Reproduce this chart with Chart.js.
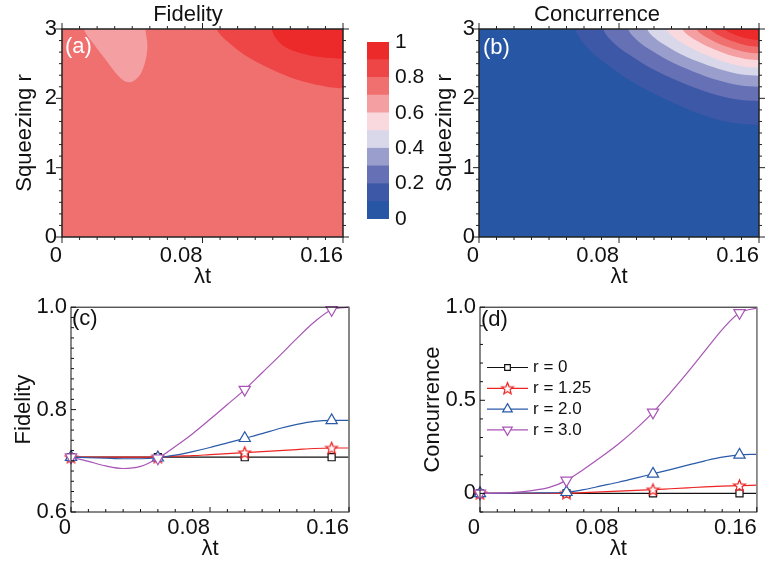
<!DOCTYPE html>
<html>
<head>
<meta charset="utf-8">
<script src="https://cdn.jsdelivr.net/npm/chart.js@4/dist/chart.umd.min.js"></script>
<style>
  body { margin: 0; background: #fff; width: 765px; height: 570px; position: relative; overflow: hidden; }
  canvas { position: absolute; }
</style>
</head>
<body>
<canvas id="fidMap" width="376" height="290" style="left:0;top:0"></canvas>
<canvas id="colorBar" width="78" height="290" style="left:350px;top:0"></canvas>
<canvas id="concMap" width="336" height="290" style="left:429px;top:0"></canvas>
<canvas id="fidLines" width="400" height="280" style="left:0;top:290px"></canvas>
<canvas id="concLines" width="365" height="280" style="left:400px;top:290px"></canvas>
<script>
// contour levels, shared by both maps and the colour bar
const levels = [0, 0.1, 0.2, 0.3, 0.4, 0.5, 0.6, 0.7, 0.8, 0.9, 1.0];
const levelColors = ['#2756a4', '#3e58a8', '#6670b5', '#9a9ecd', '#d9d8ea',
                     '#fad9de', '#f4a0a3', '#f07070', '#ee4646', '#ec2a2a'];
const barTicks = [0, 0.2, 0.4, 0.6, 0.8, 1];
const barLabels = ['0', '0.2', '0.4', '0.6', '0.8', '1'];

// shared x axis (lambda t)
const xTicks = [0, 0.08, 0.16];
const xLabels = ['0', '0.08', '0.16'];
const mapYTicks = [0, 1, 2, 3];
const mapYLabels = ['0', '1', '2', '3'];

// (a) fidelity map: contour outlines, as [λt, r]
// points beyond the frame only close the shapes
const fidBackLevel = 7;
const fidBlob = [[0.0125, 3.3], [0.0125, 3], [0.0185, 2.769], [0.0243, 2.577], [0.0300, 2.385], [0.0347, 2.264],
  [0.0378, 2.231], [0.0416, 2.264], [0.0454, 2.385], [0.0478, 2.577], [0.0486, 2.769], [0.0475, 3], [0.0475, 3.3]];
const fidHigh = [[0.175, 3.3], [0.0881, 3.3], [0.0881, 3], [0.0966, 2.769], [0.1070, 2.577], [0.1222, 2.385],
  [0.1374, 2.241], [0.1507, 2.168], [0.16, 2.144], [0.175, 2.144]];
const fidTop = [[0.175, 3.3], [0.1194, 3.3], [0.1194, 3], [0.1220, 2.86], [0.1270, 2.74], [0.1355, 2.655],
  [0.1469, 2.595], [0.16, 2.572], [0.175, 2.572]];

// (b) concurrence map: one outline per level boundary 0.1 ... 0.9
const concBackLevel = 0;
const concB1 = [[0.175, 3.3], [0.0549, 3.3], [0.0549, 3], [0.0633, 2.695], [0.0749, 2.460], [0.0875, 2.238], [0.1075, 1.975], [0.1264, 1.774], [0.1442, 1.650], [0.16, 1.615], [0.175, 1.615]];
const concB2 = [[0.175, 3.3], [0.0710, 3.3], [0.0710, 3], [0.0781, 2.772], [0.0879, 2.595], [0.0986, 2.429], [0.1155, 2.232], [0.1315, 2.081], [0.1467, 1.988], [0.16, 1.962], [0.175, 1.962]];
const concB3 = [[0.175, 3.3], [0.0853, 3.3], [0.0853, 3], [0.0913, 2.817], [0.0995, 2.676], [0.1085, 2.542], [0.1227, 2.384], [0.1361, 2.264], [0.1488, 2.189], [0.16, 2.168], [0.175, 2.168]];
const concB4 = [[0.175, 3.3], [0.0962, 3.3], [0.0962, 3], [0.1013, 2.852], [0.1083, 2.737], [0.1160, 2.629], [0.1281, 2.501], [0.1396, 2.404], [0.1504, 2.343], [0.16, 2.326], [0.175, 2.326]];
const concB5 = [[0.175, 3.3], [0.1073, 3.3], [0.1073, 3], [0.1115, 2.877], [0.1173, 2.782], [0.1236, 2.693], [0.1337, 2.587], [0.1431, 2.506], [0.1521, 2.456], [0.16, 2.442], [0.175, 2.442]];
const concB6 = [[0.175, 3.3], [0.1164, 3.3], [0.1164, 3], [0.1199, 2.902], [0.1247, 2.826], [0.1299, 2.754], [0.1382, 2.669], [0.1460, 2.604], [0.1535, 2.564], [0.16, 2.553], [0.175, 2.553]];
const concB7 = [[0.175, 3.3], [0.1244, 3.3], [0.1244, 3], [0.1272, 2.923], [0.1312, 2.863], [0.1354, 2.807], [0.1422, 2.740], [0.1486, 2.689], [0.1547, 2.658], [0.16, 2.649], [0.175, 2.649]];
const concB8 = [[0.175, 3.3], [0.1324, 3.3], [0.1324, 3], [0.1346, 2.944], [0.1376, 2.901], [0.1410, 2.860], [0.1462, 2.811], [0.1512, 2.774], [0.1559, 2.751], [0.16, 2.745], [0.175, 2.745]];
const concB9 = [[0.175, 3.3], [0.1406, 3.3], [0.1406, 3], [0.1422, 2.965], [0.1443, 2.938], [0.1466, 2.913], [0.1503, 2.882], [0.1538, 2.859], [0.1571, 2.845], [0.16, 2.841], [0.175, 2.841]];

// (c), (d) line plots
const lamT = [0, 0.01, 0.02, 0.03, 0.04, 0.05, 0.06, 0.07, 0.08, 0.09, 0.10, 0.11, 0.12, 0.13, 0.14, 0.15, 0.16];
const markerT = [0, 0.05, 0.10, 0.15];
const seriesLabels = ['r = 0', 'r = 1.25', 'r = 2.0', 'r = 3.0'];
const seriesColors = ['#111111', '#ee2424', '#2a5aa8', '#a855b5'];

const fidR0   = [0.707, 0.707, 0.707, 0.707, 0.707, 0.707, 0.707, 0.707, 0.707, 0.707, 0.707, 0.707, 0.707, 0.707, 0.707, 0.707, 0.707];
const fidR125 = [0.707, 0.707, 0.707, 0.707, 0.707, 0.707, 0.709, 0.710, 0.712, 0.714, 0.716, 0.718, 0.720, 0.722, 0.724, 0.725, 0.725];
const fidR2   = [0.707, 0.706, 0.705, 0.704, 0.704, 0.706, 0.711, 0.718, 0.726, 0.735, 0.744, 0.753, 0.763, 0.771, 0.777, 0.779, 0.779];
const fidR3   = [0.707, 0.699, 0.690, 0.685, 0.689, 0.705, 0.728, 0.753, 0.781, 0.810, 0.839, 0.872, 0.905, 0.939, 0.971, 0.995, 1.000];

const concR0   = [0, 0, 0, 0, 0, 0, 0, 0, 0, 0, 0, 0, 0, 0, 0, 0, 0];
const concR125 = [0, 0, 0, 0, 0, 0.001, 0.004, 0.008, 0.012, 0.016, 0.020, 0.025, 0.030, 0.035, 0.039, 0.042, 0.044];
const concR2   = [0, 0, 0.001, 0.002, 0.003, 0.006, 0.020, 0.040, 0.060, 0.082, 0.105, 0.128, 0.152, 0.175, 0.195, 0.207, 0.210];
const concR3   = [0, 0.001, 0.005, 0.015, 0.032, 0.070, 0.130, 0.195, 0.265, 0.345, 0.435, 0.540, 0.650, 0.765, 0.880, 0.970, 0.995];

const fidYTicks = [0.6, 0.8, 1.0];
const fidYLabels = ['0.6', '0.8', '1.0'];
const concYTicks = [0, 0.5, 1.0];
const concYLabels = ['0', '0.5', '1.0'];

Chart.defaults.font.family = "'Liberation Sans', Arial, Helvetica, sans-serif";
Chart.defaults.color = '#111';
const FONT = '"Liberation Sans", Arial';

// open five-point star, used as the marker of r = 1.25
function starMarker(color) {
  const c = document.createElement('canvas');
  c.width = 15; c.height = 15;
  const g = c.getContext('2d');
  g.beginPath();
  for (let i = 0; i < 10; i++) {
    const rad = i % 2 ? 2.7 : 6.2;
    const a = -Math.PI / 2 + i * Math.PI / 5;
    g.lineTo(7.5 + rad * Math.cos(a), 8 + rad * Math.sin(a));
  }
  g.closePath();
  g.fillStyle = '#fff';
  g.fill();
  g.strokeStyle = color;
  g.lineWidth = 1.2;
  g.stroke();
  return c;
}
const markerStyles = ['rect', starMarker(seriesColors[1]), 'triangle', 'triangle'];
const markerRotation = [0, 0, 0, 180];
const markerRadius = [5, 7, 6.5, 6.5];

// frame, tick marks, background and free text
const deco = {
  id: 'deco',
  beforeDatasetsDraw(chart, args, o) {
    if (!o.bg) return;
    const a = chart.chartArea, ctx = chart.ctx;
    ctx.save();
    ctx.fillStyle = o.bg;
    ctx.fillRect(a.left, a.top, a.right - a.left, a.bottom - a.top);
    ctx.restore();
  },
  afterDraw(chart, args, o) {
    const { ctx, chartArea: a, scales } = chart;
    if (!o.frame) return;
    ctx.save();
    ctx.lineWidth = o.frameWidth;
    ctx.strokeStyle = o.frame;
    ctx.strokeRect(a.left, a.top, a.right - a.left, a.bottom - a.top);
    if (o.rightColor) {
      ctx.strokeStyle = o.rightColor;
      ctx.lineWidth = 1.6;
      ctx.beginPath(); ctx.moveTo(a.right, a.top); ctx.lineTo(a.right, a.bottom); ctx.stroke();
    }
    const dir = o.inward ? 1 : -1;
    ctx.strokeStyle = o.frame;
    ctx.lineWidth = 1;
    const marks = (scale, step, horiz) => {
      const k0 = Math.ceil(scale.min / step - 1e-6), k1 = Math.floor(scale.max / step + 1e-6);
      for (let k = k0; k <= k1; k++) {
        const v = k * step;
        const major = scale.ticks.some(t => Math.abs(t.value - v) < step / 10);
        const len = major ? o.major : o.minor;
        const p = scale.getPixelForValue(v);
        ctx.beginPath();
        if (horiz) {
          ctx.moveTo(p, a.bottom); ctx.lineTo(p, a.bottom - dir * len);
          if (o.allSides) { ctx.moveTo(p, a.top); ctx.lineTo(p, a.top + dir * len); }
        } else {
          ctx.moveTo(a.left, p); ctx.lineTo(a.left + dir * len, p);
          if (o.allSides) { ctx.moveTo(a.right, p); ctx.lineTo(a.right - dir * len, p); }
        }
        ctx.stroke();
      }
    };
    marks(scales.x, o.xStep, true);
    marks(scales.y, o.yStep, false);

    for (const t of o.texts || []) {
      ctx.font = t.font;
      ctx.fillStyle = t.color;
      ctx.textAlign = t.align;
      ctx.textBaseline = 'middle';
      ctx.fillText(t.text, t.x, t.y);
    }

    if (o.legend) {
      const L = o.legend;
      chart.data.datasets.forEach((ds, i) => {
        const y = L.y0 + i * L.dy;
        ctx.strokeStyle = ds.borderColor;
        ctx.lineWidth = ds.borderWidth;
        ctx.beginPath(); ctx.moveTo(L.x0, y); ctx.lineTo(L.x1, y); ctx.stroke();
        ctx.fillStyle = '#fff';
        ctx.lineWidth = ds.pointBorderWidth;
        Chart.helpers.drawPoint(ctx, {
          pointStyle: ds.pointStyle, rotation: ds.pointRotation,
          radius: markerRadius[i] - 1, borderWidth: ds.pointBorderWidth
        }, (L.x0 + L.x1) / 2, y);
        ctx.fillStyle = '#111';
        ctx.font = L.font;
        ctx.textAlign = 'left';
        ctx.textBaseline = 'middle';
        ctx.fillText(ds.label, L.textX, y);
      });
    }
    ctx.restore();
  }
};

function region(points, level) {
  return {
    data: points.map(p => ({ x: p[0], y: p[1] })),
    fill: 'shape',
    backgroundColor: levelColors[level],
    borderWidth: 0,
    pointRadius: 0,
    tension: 0.35
  };
}

function axes(o) {
  return {
    x: {
      type: 'linear', min: 0, max: 0.16,
      afterBuildTicks: s => { s.ticks = xTicks.map(v => ({ value: v })); },
      afterFit: s => { s.height = o.xHeight; },
      grid: { display: false, drawTicks: false },
      border: { display: false },
      ticks: { align: 'end', padding: o.xPad, maxRotation: 0, autoSkip: false,
               font: { size: 22 }, color: '#111', callback: (v, i) => xLabels[i] },
      title: { display: true, text: 'λt', font: { size: 22 }, color: '#111',
               padding: { top: 0, bottom: o.xTitlePad } }
    },
    y: {
      min: o.yMin, max: o.yMax,
      afterBuildTicks: s => { s.ticks = o.yTicks.map(v => ({ value: v })); },
      afterFit: s => { s.width = o.yWidth; },
      grid: { display: false, drawTicks: false },
      border: { display: false },
      ticks: { padding: o.yPad, autoSkip: false, font: { size: 22 }, color: '#111',
               callback: (v, i) => o.yLabels[i] },
      title: { display: true, text: o.yTitle, font: { size: 22 }, color: '#111',
               padding: { top: o.yTitlePad, bottom: 0 } }
    }
  };
}

const base = { responsive: false, animation: false, devicePixelRatio: 1, events: [] };

// (a) Fidelity map
new Chart(document.getElementById('fidMap'), {
  type: 'line',
  data: { datasets: [region(fidTop, 9), region(fidHigh, 8), region(fidBlob, 6)] },
  options: Object.assign({}, base, {
    layout: { padding: { left: 0, top: 29, right: 33, bottom: 0 } },
    plugins: {
      legend: { display: false }, tooltip: { enabled: false },
      deco: {
        bg: levelColors[fidBackLevel], frame: '#222', frameWidth: 1.5, inward: false, allSides: true,
        major: 6, minor: 3, xStep: 0.01, yStep: 1 / 6,
        texts: [
          { text: 'Fidelity', x: 188, y: 15, font: '22px ' + FONT, color: '#111', align: 'center' },
          { text: '(a)', x: 65, y: 47, font: '22px ' + FONT, color: '#fff', align: 'left' }
        ]
      }
    },
    scales: axes({ xHeight: 53, xPad: 6, xTitlePad: 0, yMin: 0, yMax: 3, yTicks: mapYTicks, yLabels: mapYLabels,
                   yWidth: 62, yPad: 5, yTitle: 'Squeezing r', yTitlePad: 12 })
  }),
  plugins: [deco]
});

// colour bar
new Chart(document.getElementById('colorBar'), {
  type: 'bar',
  data: {
    labels: [''],
    datasets: levelColors.map((c, i) => ({
      data: [levels[i + 1] - levels[i]], backgroundColor: c, borderWidth: 0,
      barPercentage: 1, categoryPercentage: 1
    }))
  },
  options: Object.assign({}, base, {
    layout: { padding: { left: 17, top: 42, right: 0, bottom: 71 } },
    plugins: { legend: { display: false }, tooltip: { enabled: false } },
    scales: {
      x: { stacked: true, display: false },
      y: {
        stacked: true, position: 'right', min: 0, max: 1,
        afterBuildTicks: s => { s.ticks = barTicks.map(v => ({ value: v })); },
        afterFit: s => { s.width = 39; },
        grid: { display: false, drawTicks: false }, border: { display: false },
        ticks: { padding: 6, font: { size: 21 }, color: '#111', callback: (v, i) => barLabels[i] }
      }
    }
  })
});

// (b) Concurrence map
new Chart(document.getElementById('concMap'), {
  type: 'line',
  data: {
    datasets: [region(concB9, 9), region(concB8, 8), region(concB7, 7), region(concB6, 6), region(concB5, 5),
               region(concB4, 4), region(concB3, 3), region(concB2, 2), region(concB1, 1)]
  },
  options: Object.assign({}, base, {
    layout: { padding: { left: 0, top: 29, right: 5, bottom: 0 } },
    plugins: {
      legend: { display: false }, tooltip: { enabled: false },
      deco: {
        bg: levelColors[concBackLevel], frame: '#222', frameWidth: 1.5, inward: false, allSides: true,
        major: 6, minor: 3, xStep: 0.01, yStep: 1 / 6,
        texts: [
          { text: 'Concurrence', x: 168, y: 15, font: '22px ' + FONT, color: '#111', align: 'center' },
          { text: '(b)', x: 54, y: 48, font: '22px ' + FONT, color: '#fff', align: 'left' }
        ]
      }
    },
    scales: axes({ xHeight: 53, xPad: 6, xTitlePad: 0, yMin: 0, yMax: 3, yTicks: mapYTicks, yLabels: mapYLabels,
                   yWidth: 50, yPad: 4, yTitle: 'Squeezing r', yTitlePad: 3 })
  }),
  plugins: [deco]
});

function seriesSets(values) {
  return values.map((vals, i) => ({
    label: seriesLabels[i],
    data: lamT.map((x, j) => ({ x, y: vals[j] })),
    borderColor: seriesColors[i],
    borderWidth: 1.2,
    backgroundColor: '#fff',
    pointBackgroundColor: '#fff',
    pointBorderColor: seriesColors[i],
    pointBorderWidth: 1.2,
    pointStyle: markerStyles[i],
    pointRotation: markerRotation[i],
    pointRadius: ctx => markerT.some(m => Math.abs(m - ctx.raw.x) < 1e-6) ? markerRadius[i] : 0,
    cubicInterpolationMode: 'monotone',
    fill: false,
    clip: false,
    order: values.length - i
  }));
}

// (c) Fidelity vs λt
new Chart(document.getElementById('fidLines'), {
  type: 'line',
  data: { datasets: seriesSets([fidR0, fidR125, fidR2, fidR3]) },
  options: Object.assign({}, base, {
    layout: { padding: { left: 0, top: 15, right: 51, bottom: 0 } },
    plugins: {
      legend: { display: false }, tooltip: { enabled: false },
      deco: {
        frame: '#111', frameWidth: 1, rightColor: '#888', inward: true, allSides: false,
        major: 5, minor: 3, xStep: 0.01, yStep: 0.02,
        texts: [{ text: '(c)', x: 72, y: 29, font: '22px ' + FONT, color: '#111', align: 'left' }]
      }
    },
    scales: axes({ xHeight: 58, xPad: 3, xTitlePad: 8, yMin: 0.6, yMax: 1.0, yTicks: fidYTicks, yLabels: fidYLabels,
                   yWidth: 71, yPad: 4, yTitle: 'Fidelity', yTitlePad: 11 })
  }),
  plugins: [deco]
});

// (d) Concurrence vs λt
new Chart(document.getElementById('concLines'), {
  type: 'line',
  data: { datasets: seriesSets([concR0, concR125, concR2, concR3]) },
  options: Object.assign({}, base, {
    layout: { padding: { left: 0, top: 15, right: 6, bottom: 0 } },
    plugins: {
      legend: { display: false }, tooltip: { enabled: false },
      deco: {
        frame: '#111', frameWidth: 1, rightColor: '#888', inward: true, allSides: false,
        major: 5, minor: 3, xStep: 0.01, yStep: 0.1,
        texts: [{ text: '(d)', x: 81, y: 30, font: '22px ' + FONT, color: '#111', align: 'left' }],
        legend: { x0: 87, x1: 128, textX: 133, y0: 77.5, dy: 20.8, font: '17px ' + FONT }
      }
    },
    scales: axes({ xHeight: 58, xPad: 3, xTitlePad: 8, yMin: -0.1, yMax: 1.0, yTicks: concYTicks, yLabels: concYLabels,
                   yWidth: 80, yPad: 4, yTitle: 'Concurrence', yTitlePad: 20 })
  }),
  plugins: [deco]
});
</script>
</body>
</html>
